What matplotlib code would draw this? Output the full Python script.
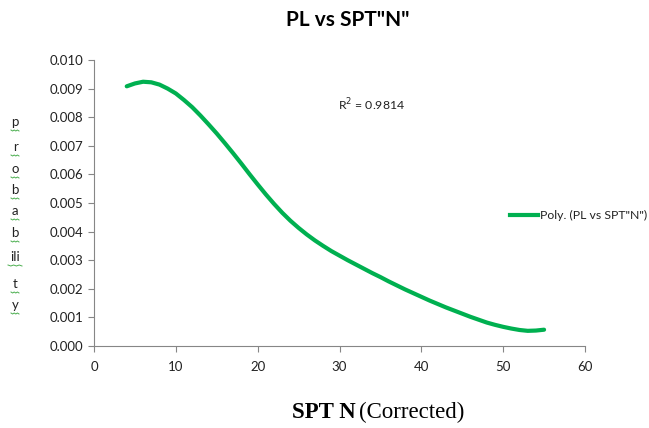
import numpy as np
import matplotlib.pyplot as plt

# значения
spt_n = list(range(4, 56))
pl = [9.08, 9.18, 9.24, 9.22, 9.14, 9.00, 8.83, 8.60, 8.35, 8.06,
      7.75, 7.43, 7.09, 6.74, 6.38, 6.01, 5.65, 5.30, 4.97, 4.66,
      4.38, 4.13, 3.90, 3.69, 3.50, 3.32, 3.16, 3.00, 2.85, 2.70,
      2.55, 2.41, 2.26, 2.12, 1.98, 1.85, 1.72, 1.59, 1.47, 1.35,
      1.24, 1.13, 1.02, 0.92, 0.82, 0.74, 0.67, 0.61, 0.56, 0.53,
      0.54, 0.57]
pl = [v / 1000 for v in pl]

x_ticks = [0, 10, 20, 30, 40, 50, 60]
y_ticks = [0.000, 0.001, 0.002, 0.003, 0.004, 0.005, 0.006, 0.007, 0.008, 0.009, 0.010]
ylabel_parts = ["p", "r", "o", "b", "a", "b", "ili", "t", "y"]

W, H = 649, 428
fig = plt.figure(figsize=(W / 100, H / 100), dpi=100)
ax = fig.add_axes([94 / W, 1 - 346 / H, (585 - 94) / W, (346 - 60) / H])

green = "#00b050"
gray = "#868686"
ax.plot(spt_n, pl, color=green, lw=3, solid_capstyle="round", solid_joinstyle="round")

ax.set_xlim(0, 60)
ax.set_ylim(0, 0.010)
ax.set_xticks(x_ticks)
ax.set_yticks(y_ticks)
ax.set_yticklabels([f"{v:.3f}" for v in y_ticks])
for s in ["top", "right"]:
    ax.spines[s].set_visible(False)
for s in ["left", "bottom"]:
    ax.spines[s].set_color(gray)
ax.tick_params(colors=gray, direction="out", length=4, labelsize=9.5)
for lab in ax.get_xticklabels() + ax.get_yticklabels():
    lab.set_color("#222222")
    lab.set_family("Lato")
ax.tick_params(axis="x", pad=7)

fig.text(348 / W, 1 - 20 / H, 'PL vs SPT"N"', ha="center", va="center",
         fontsize=15, fontweight="bold", family="Lato")
fig.text(372 / W, 1 - 105 / H, "R$^2$ = 0.9814", ha="center", va="center",
         fontsize=8.8, family="Lato", color="#222222")

# легенда
fig.add_artist(plt.Line2D([510 / W, 538 / W], [1 - 215 / H] * 2, color=green, lw=3))
fig.text(540 / W, 1 - 215 / H, 'Poly. (PL vs SPT"N")', ha="left", va="center",
         fontsize=8.8, family="Lato", color="#222222")

# подпись оси y по буквам
ys = [122, 147, 169, 190, 211, 233, 257, 284, 305]
for t, yp in zip(ylabel_parts, ys):
    fig.text(15 / W, 1 - yp / H, t, ha="center", va="center", fontsize=9.5,
             family="Lato", color="#222222")
    w = 4 if len(t) == 1 else 7
    xs = np.linspace(15 - w, 15 + w, 6)
    yy = [1 - (yp + 8 + (i % 2)) / H for i in range(6)]
    fig.add_artist(plt.Line2D(xs / W, yy, color="#4caf50", lw=0.7))

fig.text(356 / W, 1 - 412 / H, "SPT N", ha="right", va="center", fontsize=16.5,
         fontweight="bold", family="Liberation Serif")
fig.text(359 / W, 1 - 412 / H, "(Corrected)", ha="left", va="center", fontsize=16.5,
         family="Liberation Serif")

fig.savefig("out.png", dpi=100)
